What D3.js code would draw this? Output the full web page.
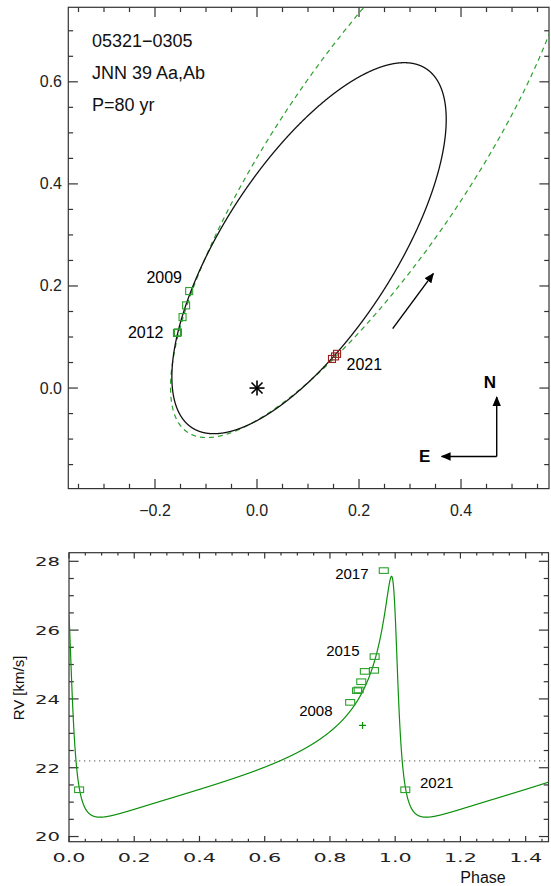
<!DOCTYPE html>
<html>
<head>
<meta charset="utf-8">
<script src="https://cdn.jsdelivr.net/npm/d3@7"></script>
<style>
body { margin: 0; background: #fff; }
svg { display: block; font-family: "Liberation Sans", Arial, sans-serif; }
</style>
</head>
<body>
<div id="chart"></div>
<script>
var svgWidth = 551;
var svgHeight = 886;

// orbit elements (solid orbit, also used for the RV curve)
var period = 80;
var ecc = 0.78;
var omegaDeg = 47;
var K1 = 3.5;
var V0 = 22.2;
var orbitU = [-0.1308, -0.3513];
var orbitW = [0.235, 0.0933];

// alternative orbit (dashed)
var altEcc = 0.843;
var altU = [-0.2687, -0.5360];
var altW = [0.2910, 0.1182];

// measured positions
var greenX = [-0.133, -0.139, -0.146, -0.157, -0.155];
var greenY = [0.190, 0.162, 0.139, 0.108, 0.109];
var redX = [0.147, 0.153, 0.157];
var redY = [0.057, 0.062, 0.067];

// radial velocities
var rvPhase = [0.862, 0.883, 0.888, 0.896, 0.907, 0.935, 0.937, 0.965, 0.031];
var rvValue = [23.90, 24.24, 24.26, 24.50, 24.80, 24.83, 25.23, 27.73, 21.36];
var rvOtherPhase = [0.900];
var rvOtherValue = [23.23];

var topXTicks = [-0.2, 0.0, 0.2, 0.4];
var topYTicks = [0.0, 0.2, 0.4, 0.6];
var rvXTicks = [0.0, 0.2, 0.4, 0.6, 0.8, 1.0, 1.2, 1.4];
var rvYTicks = [20, 22, 24, 26, 28];

var svg = d3.select("#chart").append("svg")
  .attr("width", svgWidth)
  .attr("height", svgHeight);

var green = "#2ca02c";
var darkGreen = "#0c900c";
var axisColor = "#333";

// scales
var xTop = d3.scaleLinear().domain([-0.37, 0.5725]).range([68.3, 549]);
var yTop = d3.scaleLinear().domain([-0.197, 0.746]).range([488.6, 7.3]);
var xRv = d3.scaleLinear().domain([0, 1.47]).range([69, 548.5]);
var yRv = d3.scaleLinear().domain([19.85, 28.25]).range([841.7, 552.7]);

// box with inward ticks on all four sides
function frame(x, y, xMinor, xMajor, yMinor, yMajor, lenX, lenY) {
  var g = svg.append("g").attr("stroke", axisColor).attr("stroke-width", 1.2);
  var x0 = x.range()[0], x1 = x.range()[1], y0 = y.range()[0], y1 = y.range()[1];
  g.append("rect").attr("x", x0).attr("y", y1).attr("width", x1 - x0).attr("height", y0 - y1)
    .attr("fill", "none");
  xMinor.forEach(function(v) {
    var major = xMajor.some(function(m) { return Math.abs(m - v) < 1e-6; });
    var l = major ? lenX : lenX / 2;
    g.append("line").attr("x1", x(v)).attr("x2", x(v)).attr("y1", y0).attr("y2", y0 - l);
    g.append("line").attr("x1", x(v)).attr("x2", x(v)).attr("y1", y1).attr("y2", y1 + l);
  });
  yMinor.forEach(function(v) {
    var major = yMajor.some(function(m) { return Math.abs(m - v) < 1e-6; });
    var l = major ? lenY : lenY / 2;
    g.append("line").attr("y1", y(v)).attr("y2", y(v)).attr("x1", x0).attr("x2", x0 + l);
    g.append("line").attr("y1", y(v)).attr("y2", y(v)).attr("x1", x1).attr("x2", x1 - l);
  });
}

// ---------- top panel ----------
frame(xTop, yTop,
  d3.range(-7, 12).map(function(i) { return i * 0.05; }), topXTicks,
  d3.range(-3, 15).map(function(i) { return i * 0.05; }), topYTicks, 9.6, 9.6);

var fmt = d3.format(".1f");
svg.append("g").selectAll("text").data(topXTicks).enter().append("text")
  .attr("x", function(d) { return xTop(d); })
  .attr("y", 515.5)
  .attr("text-anchor", "middle")
  .attr("font-size", 16)
  .attr("fill", "#222")
  .text(function(d) { return fmt(d); });
svg.append("g").selectAll("text").data(topYTicks).enter().append("text")
  .attr("x", 62)
  .attr("y", function(d) { return yTop(d) + 5.5; })
  .attr("text-anchor", "end")
  .attr("font-size", 16)
  .attr("fill", "#222")
  .text(function(d) { return fmt(d); });

var defs = svg.append("defs");
defs.append("clipPath").attr("id", "clipTop")
  .append("rect").attr("x", 68.3).attr("y", 7.3).attr("width", 549 - 68.3).attr("height", 488.6 - 7.3);
defs.append("clipPath").attr("id", "clipRv")
  .append("rect").attr("x", 69).attr("y", 552.7).attr("width", 548.5 - 69).attr("height", 841.7 - 552.7);

function orbitPoint(U, W, e, E) {
  return [U[0] * (Math.cos(E) - e) + W[0] * Math.sin(E), U[1] * (Math.cos(E) - e) + W[1] * Math.sin(E)];
}
var anomalies = d3.range(0, 2 * Math.PI + 0.002, 0.002);
var orbitLine = d3.line()
  .x(function(d) { return xTop(d[0]); })
  .y(function(d) { return yTop(d[1]); });

svg.append("path")
  .datum(anomalies.map(function(E) { return orbitPoint(altU, altW, altEcc, E); }))
  .attr("clip-path", "url(#clipTop)")
  .attr("d", orbitLine)
  .attr("fill", "none")
  .attr("stroke", green)
  .attr("stroke-width", 1.2)
  .attr("stroke-dasharray", "5,4");

svg.append("path")
  .datum(anomalies.map(function(E) { return orbitPoint(orbitU, orbitW, ecc, E); }))
  .attr("clip-path", "url(#clipTop)")
  .attr("d", orbitLine)
  .attr("fill", "none")
  .attr("stroke", "#111")
  .attr("stroke-width", 1.3);

// measures
svg.append("g").selectAll("rect").data(greenX).enter().append("rect")
  .attr("x", function(d) { return xTop(d) - 3.5; })
  .attr("y", function(d, i) { return yTop(greenY[i]) - 3.5; })
  .attr("width", 7).attr("height", 7)
  .attr("fill", "none").attr("stroke", green).attr("stroke-width", 1.1);
svg.append("g").selectAll("rect").data(redX).enter().append("rect")
  .attr("x", function(d) { return xTop(d) - 3.5; })
  .attr("y", function(d, i) { return yTop(redY[i]) - 3.5; })
  .attr("width", 7).attr("height", 7)
  .attr("fill", "none").attr("stroke", "#9a1c1c").attr("stroke-width", 1.1);

// primary star
var star = svg.append("g").attr("stroke", "#000").attr("stroke-width", 1.6)
  .attr("transform", "translate(" + xTop(0) + "," + yTop(0) + ")");
star.append("line").attr("x1", -7.5).attr("x2", 7.5).attr("y1", 0).attr("y2", 0);
star.append("line").attr("x1", 0).attr("x2", 0).attr("y1", -7.5).attr("y2", 7.5);
star.append("line").attr("x1", -5.5).attr("x2", 5.5).attr("y1", -5.5).attr("y2", 5.5);
star.append("line").attr("x1", -5.5).attr("x2", 5.5).attr("y1", 5.5).attr("y2", -5.5);

// arrows
defs.append("marker").attr("id", "head")
  .attr("viewBox", "0 0 10 10").attr("refX", 9).attr("refY", 5)
  .attr("markerWidth", 10).attr("markerHeight", 10).attr("markerUnits", "userSpaceOnUse")
  .attr("orient", "auto")
  .append("path").attr("d", "M0,0.8 L10,5 L0,9.2 Z").attr("fill", "#000");
function arrow(p0, p1) {
  svg.append("line")
    .attr("x1", xTop(p0[0])).attr("y1", yTop(p0[1]))
    .attr("x2", xTop(p1[0])).attr("y2", yTop(p1[1]))
    .attr("stroke", "#000").attr("stroke-width", 1.4)
    .attr("marker-end", "url(#head)");
}
arrow([0.266, 0.1165], [0.3457, 0.2243]);
arrow([0.470, -0.134], [0.470, -0.0176]);
arrow([0.470, -0.134], [0.362, -0.134]);
svg.append("text").attr("x", xTop(0.4566)).attr("y", yTop(-0.0176) - 9)
  .attr("text-anchor", "middle").attr("font-size", 17).attr("font-weight", "bold").text("N");
svg.append("text").attr("x", xTop(0.3287)).attr("y", yTop(-0.134) + 6)
  .attr("text-anchor", "middle").attr("font-size", 17).attr("font-weight", "bold").text("E");

// labels
var info = ["05321\u22120305", "JNN 39 Aa,Ab", "P=80 yr"];
svg.append("g").selectAll("text").data(info).enter().append("text")
  .attr("x", 92).attr("y", function(d, i) { return 47.3 + i * 31.7; })
  .attr("font-size", 18).attr("fill", "#111").text(function(d) { return d; });
svg.append("text").attr("x", 182).attr("y", 283).attr("text-anchor", "end").attr("font-size", 16).text("2009");
svg.append("text").attr("x", 163.5).attr("y", 337.5).attr("text-anchor", "end").attr("font-size", 16).text("2012");
svg.append("text").attr("x", 346.5).attr("y", 370).attr("font-size", 16).text("2021");

// ---------- RV panel ----------
frame(xRv, yRv,
  d3.range(0, 30).map(function(i) { return i * 0.05; }), rvXTicks,
  d3.range(0, 17).map(function(i) { return 20 + i * 0.5; }), rvYTicks, 5.8, 9.6);

svg.append("g").selectAll("text").data(rvXTicks).enter().append("text")
  .attr("x", function(d) { return xRv(d) - 16.5; })
  .attr("y", 861.5)
  .attr("font-family", "DejaVu Sans")
  .attr("font-size", 13)
  .attr("fill", "#222")
  .attr("textLength", 33)
  .attr("lengthAdjust", "spacingAndGlyphs")
  .text(function(d) { return fmt(d); });
svg.append("g").selectAll("text").data(rvYTicks).enter().append("text")
  .attr("x", 35)
  .attr("y", function(d) { return yRv(d) + 4.8; })
  .attr("font-family", "DejaVu Sans")
  .attr("font-size", 13)
  .attr("fill", "#222")
  .attr("textLength", 25)
  .attr("lengthAdjust", "spacingAndGlyphs")
  .text(function(d) { return d; });

svg.append("text").attr("transform", "translate(24,688) rotate(-90)")
  .attr("text-anchor", "middle").attr("font-size", 15).attr("fill", "#111").text("RV [km/s]");
svg.append("text").attr("x", 483).attr("y", 883)
  .attr("text-anchor", "middle").attr("font-size", 16).attr("fill", "#111").text("Phase");

// systemic velocity
svg.append("line")
  .attr("x1", xRv(0)).attr("x2", xRv(1.47))
  .attr("y1", yRv(V0)).attr("y2", yRv(V0))
  .attr("stroke", "#777").attr("stroke-width", 1.2).attr("stroke-dasharray", "1.3,3.7");

function keplerE(M, e) {
  var E = e > 0.8 ? Math.PI : M;
  for (var i = 0; i < 60; i++) E = E - (E - e * Math.sin(E) - M) / (1 - e * Math.cos(E));
  return E;
}
function rvAt(ph) {
  var M = 2 * Math.PI * (ph - Math.floor(ph));
  var E = keplerE(M, ecc);
  var nu = 2 * Math.atan(Math.sqrt((1 + ecc) / (1 - ecc)) * Math.tan(E / 2));
  var w = omegaDeg * Math.PI / 180;
  return V0 + K1 * (Math.cos(nu + w) + ecc * Math.cos(w));
}
var phases = d3.range(0, 1.4701, 0.0005);
svg.append("path")
  .datum(phases)
  .attr("clip-path", "url(#clipRv)")
  .attr("d", d3.line().x(function(p) { return xRv(p); }).y(function(p) { return yRv(rvAt(p)); }))
  .attr("fill", "none").attr("stroke", darkGreen).attr("stroke-width", 1.2);

// each RV is shown at its phase and, when it fits, one cycle later
var rvPts = [];
rvPhase.forEach(function(p, i) {
  [p, p + 1].forEach(function(q) { if (q <= 1.47) rvPts.push([q, rvValue[i]]); });
});
svg.append("g").selectAll("rect").data(rvPts).enter().append("rect")
  .attr("x", function(d) { return xRv(d[0]) - 4.5; })
  .attr("y", function(d) { return yRv(d[1]) - 2.8; })
  .attr("width", 9).attr("height", 5.6)
  .attr("fill", "none").attr("stroke", green).attr("stroke-width", 1.1);
svg.append("g").selectAll("path").data(rvOtherPhase).enter().append("path")
  .attr("d", function(p, i) {
    var cx = xRv(p), cy = yRv(rvOtherValue[i]);
    return "M" + (cx - 3.5) + "," + cy + "H" + (cx + 3.5) + "M" + cx + "," + (cy - 3.5) + "V" + (cy + 3.5);
  })
  .attr("stroke", darkGreen).attr("stroke-width", 1.2);

svg.append("text").attr("x", 368.5).attr("y", 579).attr("text-anchor", "end").attr("font-size", 15).text("2017");
svg.append("text").attr("x", 359.5).attr("y", 656).attr("text-anchor", "end").attr("font-size", 15).text("2015");
svg.append("text").attr("x", 332.5).attr("y", 716).attr("text-anchor", "end").attr("font-size", 15).text("2008");
svg.append("text").attr("x", 420).attr("y", 788).attr("font-size", 15).text("2021");
</script>
</body>
</html>
